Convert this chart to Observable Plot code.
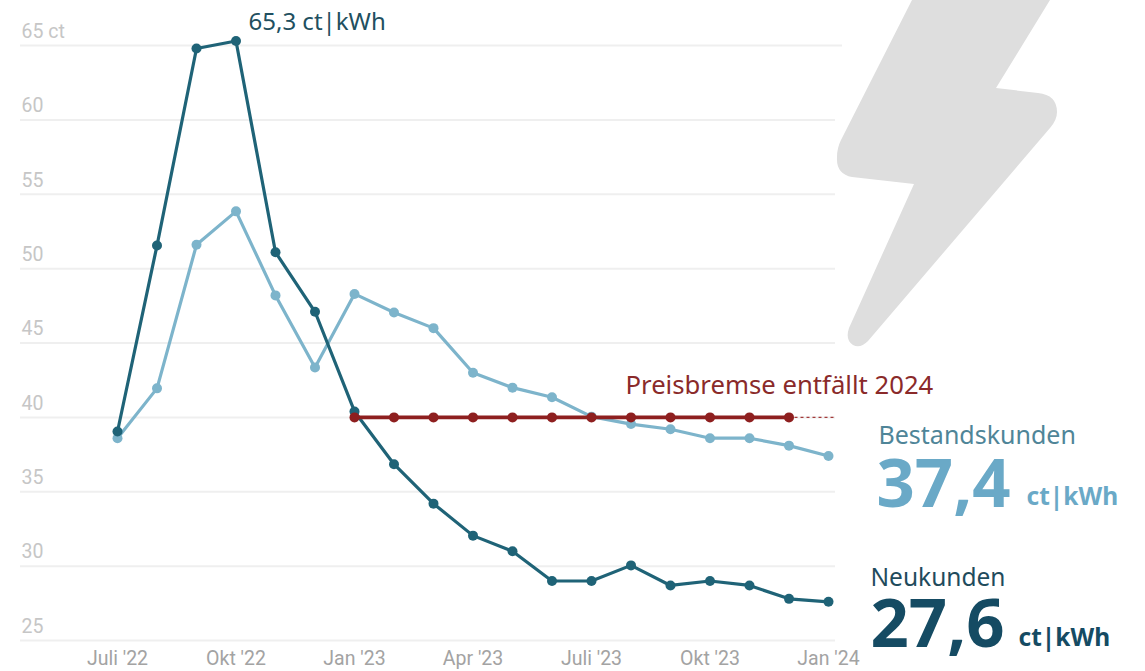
<!DOCTYPE html>
<html lang="de">
<head>
<meta charset="utf-8">
<title>Strompreise Neukunden und Bestandskunden</title>
<script src="https://cdn.jsdelivr.net/npm/d3@7"></script>
<script src="https://cdn.jsdelivr.net/npm/@observablehq/plot@0.6"></script>
<style>
  html, body { margin: 0; padding: 0; background: #fff; }
  svg { display: block; }
</style>
</head>
<body>
<div id="chart"></div>
<script>
// Monatswerte in ct/kWh
const months = ["Juli '22","Aug '22","Sep '22","Okt '22","Nov '22","Dez '22","Jan '23","Feb '23","Mär '23","Apr '23","Mai '23","Juni '23","Juli '23","Aug '23","Sep '23","Okt '23","Nov '23","Dez '23","Jan '24"];
const neukunden = [39.05,51.55,64.8,65.3,51.1,47.1,40.4,36.85,34.2,32.05,31.0,29.0,29.0,30.05,28.7,29.0,28.7,27.8,27.6];
const bestandskunden = [38.6,41.95,51.6,53.85,48.2,43.35,48.3,47.05,46.0,43.0,42.0,41.35,40.05,39.55,39.2,38.6,38.6,38.1,37.4];
const preisbremseMonths = months.slice(6, 18);
const preisbremseWert = 40;
const xTicks = ["Juli '22","Okt '22","Jan '23","Apr '23","Juli '23","Okt '23","Jan '24"];
const yTicks = [25,30,35,40,45,50,55,60,65];

const toRows = (values) => months.map((month, i) => ({month, value: values[i]}));
const neuRows = toRows(neukunden);
const bestandRows = toRows(bestandskunden);
const bremseRows = preisbremseMonths.map((month) => ({month, value: preisbremseWert}));

const margin = {left: 20, top: 45, right: 310, bottom: 31};
const textFont = "'Noto Sans', sans-serif";

// Freier Text, in Seitenpixeln platziert
const label = (text, px, py, fontSize, fill, fontWeight = "normal") =>
  Plot.text([text], {
    frameAnchor: "top-left",
    dx: px - margin.left,
    dy: py - margin.top,
    textAnchor: "start",
    lineAnchor: "middle",
    fontFamily: textFont,
    fontSize,
    fontWeight,
    fill
  });

// Blitz als Dekoration hinter dem Diagramm
const bolt = () => {
  const path = document.createElementNS("http://www.w3.org/2000/svg", "path");
  path.setAttribute("d", "M918,0 L1050,0 L996,88 L1038,93 Q1057,95 1057,112 Q1057,120 1050,128 L868,341 Q860,349 853,345 Q845,340 849,328 L914,184 L852,177 Q836,174 837,157 Q837,148 841,140 L912,0 Z");
  path.setAttribute("fill", "#dedede");
  return path;
};

const series = (rows, color, strokeWidth = 3.2) => [
  Plot.line(rows, {x: "month", y: "value", stroke: color, strokeWidth, curve: "linear"}),
  Plot.dot(rows, {x: "month", y: "value", fill: color, r: 5})
];

const chart = Plot.plot({
  width: 1145,
  height: 671,
  marginLeft: margin.left,
  marginTop: margin.top,
  marginRight: margin.right,
  marginBottom: margin.bottom,
  style: {background: "#fff", fontFamily: "Roboto, sans-serif"},
  x: {type: "point", domain: months, range: [117, 828], padding: 0, round: false},
  y: {domain: [25, 65]},
  marks: [
    bolt,
    Plot.ruleY(yTicks.filter((t) => t < 65), {stroke: "#efefef", strokeWidth: 2}),
    Plot.ruleY([65], {stroke: "#efefef", strokeWidth: 2, insetRight: -7}),
    Plot.axisY({
      ticks: yTicks, anchor: "left", tickSize: 0, tickPadding: 0,
      tickFormat: (d) => d === 65 ? "65 ct" : String(d),
      textAnchor: "start", dx: 1, dy: -14, label: null,
      fontSize: 19.5, fill: "#c6c6c6"
    }),
    Plot.axisX({
      ticks: xTicks, anchor: "bottom", tickSize: 0, tickPadding: 11, label: null,
      fontSize: 19.5, fill: "#a3a3a3"
    }),
    ...series(bestandRows, "#7db4cb"),
    ...series(neuRows, "#1f6377"),
    Plot.ruleY([preisbremseWert], {
      x1: () => months[17], x2: () => months[18], insetRight: -7,
      stroke: "#a33a3a", strokeWidth: 1.3, strokeDasharray: "3,3"
    }),
    ...series(bremseRows, "#8e1f1f", 3.6),
    label("65,3 ct|kWh", 248, 22, 24, "#214f60"),
    label("Preisbremse entfällt 2024", 625, 385, 25.7, "#8a2a2a"),
    label("Bestandskunden", 878, 435, 25, "#4f8598"),
    label("37,4", 876, 485, 67, "#6aa9c7", "bold"),
    label("ct|kWh", 1026, 497, 24.5, "#6aa9c7", "bold"),
    label("Neukunden", 870, 578, 24.5, "#1f4b5c"),
    label("27,6", 870, 625, 67, "#154b63", "bold"),
    label("ct|kWh", 1018, 638, 24.5, "#154b63", "bold")
  ]
});

document.getElementById("chart").append(chart);
</script>
</body>
</html>
